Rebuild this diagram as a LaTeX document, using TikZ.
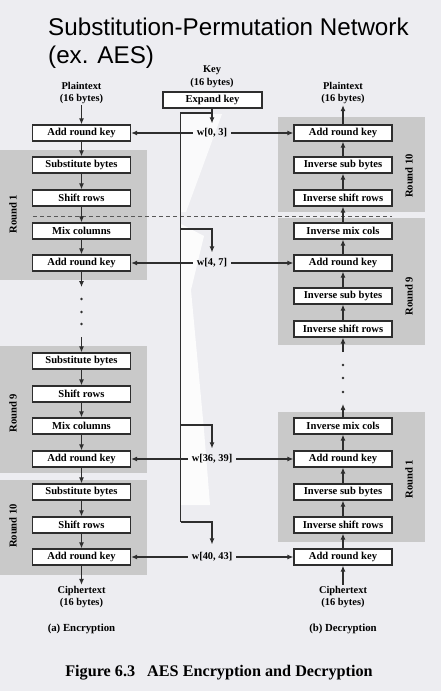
\documentclass[tikz,border=0pt]{standalone}
\usepackage{fontspec}
\setmainfont{Liberation Serif}
\newfontfamily\titlefont{Liberation Sans}
\usetikzlibrary{arrows.meta}
\definecolor{bg}{HTML}{EDEDF1}
\definecolor{panel}{HTML}{C9C9C9}
\definecolor{ink}{HTML}{2E2E2E}
\begin{document}
\begin{tikzpicture}[x=1pt,y=-1pt,
 box/.style={draw=ink, fill=white, line width=1.3pt, minimum width=98pt, minimum height=16pt, inner sep=0pt, font=\bfseries\fontsize{10.6}{12}\selectfont},
 lbl/.style={align=center, font=\bfseries\fontsize{10.4}{12.5}\selectfont, inner sep=1pt},
 wlbl/.style={font=\bfseries\fontsize{10.4}{12}\selectfont, inner xsep=4pt, inner ysep=3pt},
 arr/.style={draw=ink, line width=1.1pt, -{Latex[length=6pt,width=5pt]}},
 ln/.style={draw=ink, line width=1.1pt},
 rnd/.style={rotate=90, font=\bfseries\fontsize{10.6}{12}\selectfont},
 dotc/.style={fill=ink, circle, inner sep=0pt, minimum size=2.8pt}
]
\useasboundingbox (0,0) rectangle (441,691);
\fill[bg] (0,0) rectangle (441,691);
% white background vein
\fill[white, opacity=0.75] (181,114) -- (222,114) -- (186,212) -- (181,212) -- cycle;
\fill[white, opacity=0.85] (181,224) -- (204,236) -- (191,290) -- (204,430) -- (210,505) -- (181,505) -- cycle;

% title
\node[anchor=base west, inner sep=0pt, font=\titlefont\fontsize{24.2}{28}\selectfont] (t1) at (48,35) {Substitution-Permutation Network};
\node[anchor=base west, inner sep=0pt, font=\titlefont\fontsize{24.2}{28}\selectfont] (t2) at (48,63) {(ex. AES)};

% panels
\fill[panel] (0,150) rectangle (147,280);
\fill[panel] (0,346) rectangle (147,473);
\fill[panel] (0,480) rectangle (147,575);
\fill[panel] (278,117) rectangle (425,212);
\fill[panel] (278,218) rectangle (425,345);
\fill[panel] (278,412) rectangle (425,542);

% round labels
\node[rnd] (rl1) at (13,214) {Round 1};
\node[rnd] (rl9) at (13,413) {Round 9};
\node[rnd] (rl10) at (13,526) {Round 10};
\node[rnd] (rr10) at (409,176) {Round 10};
\node[rnd] (rr9) at (409,296) {Round 9};
\node[rnd] (rr1) at (409,479) {Round 1};

% dashed separator
\draw[draw=ink!80, line width=0.8pt, dash pattern=on 4pt off 3pt] (33,216) -- (392,216);

% left column
\node[lbl] (ptL) at (81.5,93) {Plaintext\\(16 bytes)};
\node[box] (L0) at (81.5,133) {Add round key};
\node[box] (L1) at (81.5,165) {Substitute bytes};
\node[box] (L2) at (81.5,198) {Shift rows};
\node[box] (L3) at (81.5,231) {Mix columns};
\node[box] (L4) at (81.5,263) {Add round key};
\node[box] (L5) at (81.5,361) {Substitute bytes};
\node[box] (L6) at (81.5,394) {Shift rows};
\node[box] (L7) at (81.5,426) {Mix columns};
\node[box] (L8) at (81.5,459) {Add round key};
\node[box] (L9) at (81.5,492) {Substitute bytes};
\node[box] (L10) at (81.5,525) {Shift rows};
\node[box] (L11) at (81.5,557) {Add round key};
\node[lbl] (ctL) at (81.5,597) {Ciphertext\\(16 bytes)};
\node[lbl, font=\bfseries\fontsize{10.8}{12}\selectfont] (encL) at (81.5,629) {(a) Encryption};
\coordinate (la) at (81.5,287);
\coordinate (lb) at (81.5,337);
\node[dotc] (ld1) at (81.5,299) {};
\node[dotc] (ld2) at (81.5,312) {};
\node[dotc] (ld3) at (81.5,324) {};

% right column
\node[lbl] (ptR) at (343,93) {Plaintext\\(16 bytes)};
\node[box] (R0) at (343,133) {Add round key};
\node[box] (R1) at (343,165) {Inverse sub bytes};
\node[box] (R2) at (343,198) {Inverse shift rows};
\node[box] (R3) at (343,231) {Inverse mix cols};
\node[box] (R4) at (343,263) {Add round key};
\node[box] (R5) at (343,296) {Inverse sub bytes};
\node[box] (R6) at (343,329) {Inverse shift rows};
\node[box] (R7) at (343,426) {Inverse mix cols};
\node[box] (R8) at (343,459) {Add round key};
\node[box] (R9) at (343,492) {Inverse sub bytes};
\node[box] (R10) at (343,525) {Inverse shift rows};
\node[box] (R11) at (343,557) {Add round key};
\node[lbl] (ctR) at (343,597) {Ciphertext\\(16 bytes)};
\node[lbl, font=\bfseries\fontsize{10.8}{12}\selectfont] (decR) at (343,629) {(b) Decryption};
\coordinate (ra) at (343,404);
\coordinate (rb) at (343,352);
\node[dotc] (rd1) at (343,365) {};
\node[dotc] (rd2) at (343,378) {};
\node[dotc] (rd3) at (343,392) {};

% key
\node[lbl] (key) at (212,76.5) {Key\\(16 bytes)};
\node[box, minimum width=99pt] (EK) at (212.5,100) {Expand key};
\node[wlbl] (w0) at (212,133) {w[0, 3]};
\node[wlbl] (w1) at (212,263) {w[4, 7]};
\node[wlbl] (w2) at (212,459) {w[36, 39]};
\node[wlbl] (w3) at (212,557) {w[40, 43]};
\coordinate (ka) at (180.5,113);
\coordinate (kb) at (180.5,229);
\coordinate (kc) at (180.5,425);
\coordinate (kd) at (180.5,522);

\draw[arr, shorten >=2pt] (EK.south -| w0.north) -- (w0.north);
\draw[ln] (ka -| w0.north) -- (ka) -- (kd);
\draw[arr, shorten >=3pt] (kb) -| (w1.north);
\draw[arr, shorten >=3pt] (kc) -| (w2.north);
\draw[arr, shorten >=5pt] (kd) -| (w3.north);

\foreach \w/\l/\r in {w0/L0/R0, w1/L4/R4, w2/L8/R8, w3/L11/R11}{
  \draw[arr] (\w.west) -- (\l.east);
  \draw[arr] (\w.east) -- (\r.west);
}

% left flow
\draw[arr] (ptL.south) -- (L0.north);
\foreach \a/\b in {L0/L1, L1/L2, L2/L3, L3/L4, L5/L6, L6/L7, L7/L8, L8/L9, L9/L10, L10/L11}{
  \draw[arr] (\a.south) -- (\b.north);
}
\draw[arr] (L4.south) -- (la);
\draw[arr] (lb) -- (L5.north);
\draw[arr] (L11.south) -- (ctL.north);

% right flow
\draw[arr] (ctR.north) -- (R11.south);
\foreach \a/\b in {R11/R10, R10/R9, R9/R8, R8/R7, R6/R5, R5/R4, R4/R3, R3/R2, R2/R1, R1/R0}{
  \draw[arr] (\a.north) -- (\b.south);
}
\draw[arr] (R7.north) -- (ra);
\draw[arr] (rb) -- (R6.south);
\draw[arr] (R0.north) -- (ptR.south);

% caption
\node[font=\bfseries\fontsize{16.2}{18}\selectfont] (cap) at (219,673) {Figure 6.3\hspace{12pt}AES Encryption and Decryption};
\end{tikzpicture}
\end{document}
